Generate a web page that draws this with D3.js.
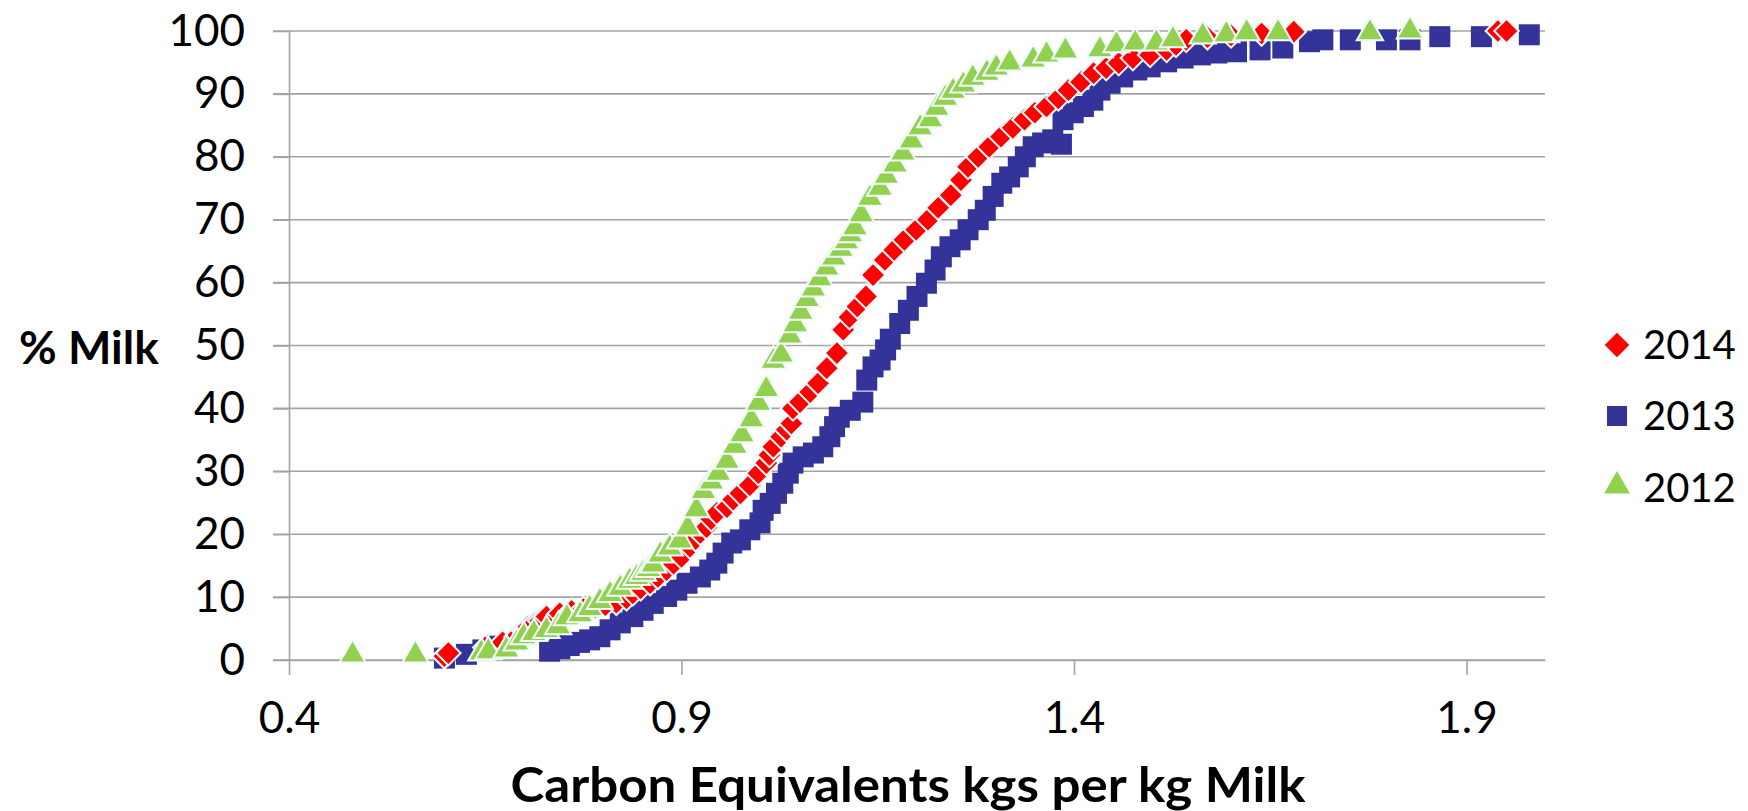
<!DOCTYPE html>
<html>
<head>
<meta charset="utf-8">
<script src="https://cdn.jsdelivr.net/npm/d3@7"></script>
<style>
  body { margin: 0; background: #fff; }
  svg { display: block; font-family: Lato, "DejaVu Sans", sans-serif; }
</style>
</head>
<body>
<script>
// [kg CO2e per kg milk, cumulative % milk]
var s2014 = [
  [0.598, 0.6], [0.603, 1.1], [0.650, 2.0], [0.672, 2.8], [0.690, 3.7], [0.700, 4.6], [0.705, 5.3],
  [0.713, 5.8], [0.720, 6.2], [0.728, 6.9], [0.745, 7.4], [0.760, 7.8], [0.775, 8.1], [0.790, 8.4],
  [0.803, 8.7], [0.817, 9.1], [0.830, 9.8], [0.838, 10.6], [0.848, 11.4], [0.860, 12.2], [0.870, 13.2],
  [0.881, 14.3], [0.890, 15.3], [0.900, 16.4], [0.911, 18.0], [0.918, 19.2], [0.924, 20.2], [0.932, 21.1],
  [0.938, 22.4], [0.945, 23.4], [0.958, 24.3], [0.966, 25.5], [0.975, 26.5], [0.987, 27.8], [0.998, 29.7],
  [1.008, 31.3], [1.012, 32.6], [1.017, 33.9], [1.027, 35.5], [1.034, 36.6], [1.040, 37.6], [1.042, 40.0],
  [1.051, 41.0], [1.064, 42.6], [1.074, 44.0], [1.085, 46.4], [1.098, 48.8], [1.106, 52.5], [1.114, 54.5],
  [1.124, 56.2], [1.135, 57.8], [1.144, 61.2], [1.159, 63.6], [1.171, 65.2], [1.184, 66.8], [1.199, 68.4],
  [1.214, 70.0], [1.227, 71.9], [1.243, 73.9], [1.256, 76.3], [1.265, 78.4], [1.278, 80.0], [1.292, 81.6],
  [1.307, 83.2], [1.322, 84.6], [1.337, 85.9], [1.350, 87.0], [1.365, 88.0], [1.380, 89.3], [1.393, 90.6],
  [1.409, 91.9], [1.425, 93.3], [1.441, 94.1], [1.457, 94.9], [1.475, 95.7], [1.497, 96.2], [1.518, 97.0],
  [1.530, 97.8], [1.543, 98.6], [1.570, 99.0], [1.600, 99.3], [1.639, 99.6], [1.680, 99.9], [1.940, 100],
  [1.951, 100]
];

var s2013 = [
  [0.598, 0.3], [0.626, 0.9], [0.647, 1.6], [0.665, 2.2], [0.732, 1.4], [0.745, 1.8], [0.757, 2.3],
  [0.770, 2.8], [0.783, 3.2], [0.796, 3.7], [0.809, 4.8], [0.822, 5.9], [0.838, 6.9], [0.851, 7.9],
  [0.864, 9.0], [0.881, 10.1], [0.894, 11.1], [0.907, 12.2], [0.924, 13.2], [0.936, 14.3], [0.945, 15.4],
  [0.953, 17.0], [0.964, 18.6], [0.975, 19.1], [0.987, 20.7], [1.000, 21.8], [1.004, 23.8], [1.013, 24.9],
  [1.021, 26.5], [1.029, 28.1], [1.036, 29.7], [1.042, 31.3], [1.055, 32.3], [1.068, 32.9], [1.080, 33.9],
  [1.089, 35.5], [1.095, 37.1], [1.101, 38.6], [1.115, 39.7], [1.131, 41.0], [1.136, 44.5], [1.144, 46.6],
  [1.153, 47.7], [1.160, 49.3], [1.166, 51.0], [1.178, 53.5], [1.189, 55.6], [1.200, 57.8], [1.212, 59.9],
  [1.223, 62.0], [1.231, 64.1], [1.242, 65.7], [1.255, 66.8], [1.265, 68.4], [1.278, 70.0], [1.287, 71.5],
  [1.297, 73.7], [1.308, 75.8], [1.318, 76.8], [1.329, 78.4], [1.338, 80.0], [1.348, 81.6], [1.360, 82.2],
  [1.373, 82.7], [1.384, 82.0], [1.386, 85.9], [1.399, 87.0], [1.412, 88.0], [1.424, 89.0], [1.433, 90.6],
  [1.446, 91.7], [1.462, 92.7], [1.480, 93.8], [1.497, 94.3], [1.518, 95.1], [1.539, 95.7], [1.561, 96.2],
  [1.582, 96.5], [1.607, 96.7], [1.637, 97.0], [1.666, 97.3], [1.700, 98.3], [1.717, 98.6], [1.752, 98.6],
  [1.798, 98.6], [1.828, 98.6], [1.866, 99.1], [1.919, 99.1], [1.980, 99.4]
];

var s2012 = [
  [0.481, 0.5], [0.561, 0.5], [0.645, 0.8], [0.654, 1.0], [0.677, 1.3], [0.690, 2.4], [0.699, 3.4],
  [0.712, 3.9], [0.728, 4.4], [0.743, 5.0], [0.754, 6.4], [0.771, 6.9], [0.783, 7.9], [0.796, 9.0],
  [0.809, 10.1], [0.822, 11.1], [0.834, 12.2], [0.843, 12.8], [0.851, 13.5], [0.858, 14.1], [0.864, 14.8],
  [0.873, 16.4], [0.885, 17.5], [0.898, 18.6], [0.908, 20.7], [0.919, 23.6], [0.928, 26.5], [0.938, 28.0],
  [0.947, 29.4], [0.958, 31.3], [0.968, 33.7], [0.977, 35.5], [0.989, 37.9], [0.998, 40.5], [1.008, 42.7],
  [1.017, 47.2], [1.027, 48.2], [1.038, 51.2], [1.045, 53.0], [1.052, 55.0], [1.060, 57.0], [1.068, 58.7],
  [1.076, 60.3], [1.085, 62.0], [1.094, 63.6], [1.103, 65.0], [1.110, 66.2], [1.115, 67.3], [1.121, 68.4],
  [1.129, 70.5], [1.140, 73.1], [1.153, 74.7], [1.161, 76.6], [1.172, 78.4], [1.182, 80.3], [1.193, 82.2],
  [1.204, 84.3], [1.217, 85.6], [1.225, 87.4], [1.236, 89.0], [1.246, 90.1], [1.259, 91.1], [1.271, 92.2],
  [1.289, 93.0], [1.301, 93.8], [1.318, 94.6], [1.348, 95.1], [1.365, 95.9], [1.389, 96.5], [1.433, 96.7],
  [1.454, 97.5], [1.478, 97.8], [1.505, 97.8], [1.526, 98.3], [1.564, 98.9], [1.594, 99.1], [1.620, 99.4],
  [1.660, 99.4], [1.777, 99.4], [1.828, 99.7]
];

var xTicks = [0.4, 0.9, 1.4, 1.9];
var yTicks = [0, 10, 20, 30, 40, 50, 60, 70, 80, 90, 100];
var legendNames = ["2014", "2013", "2012"];

var size = { width: 1748, height: 811 };
var plot = { left: 289, right: 1545, top: 31, bottom: 660 };
var gridColor = "#a3a3a3";

var series = [
  { name: "2013", data: s2013, color: "#333399", type: "square", stroke: "none" },
  { name: "2014", data: s2014, color: "#ff0000", type: "diamond", stroke: "#e9f8fb" },
  { name: "2012", data: s2012, color: "#92d050", type: "triangle", stroke: "#f2fbfc" }
];

function markerPath(type) {
  if (type == "square") return d3.symbol().type(d3.symbolSquare).size(441)();
  if (type == "diamond") return d3.symbol().type(d3.symbolSquare).size(300)();
  return d3.symbol().type(d3.symbolTriangle).size(300)();
}

var svg = d3.select("body").append("svg")
  .attr("width", size.width)
  .attr("height", size.height);

var x = d3.scaleLinear().domain([0.4, 2.0]).range([plot.left, plot.right]);
var y = d3.scaleLinear().domain([0, 100]).range([plot.bottom, plot.top]);

// horizontal gridlines, running a little left of the axis like tick marks
svg.append("g")
  .selectAll("line")
  .data(yTicks)
  .enter()
  .append("line")
  .attr("x1", plot.left - 16)
  .attr("x2", plot.right)
  .attr("y1", function(d) { return y(d); })
  .attr("y2", function(d) { return y(d); })
  .attr("stroke", gridColor)
  .attr("stroke-width", 1.6);

var yAxis = svg.append("g")
  .attr("transform", "translate(" + plot.left + ",0)")
  .call(d3.axisLeft(y).tickValues(yTicks).tickSize(16).tickSizeOuter(0).tickPadding(28));

var xAxis = svg.append("g")
  .attr("transform", "translate(0," + plot.bottom + ")")
  .call(d3.axisBottom(x).tickValues(xTicks).tickSize(15).tickSizeOuter(0).tickPadding(27)
    .tickFormat(d3.format(".1f")));

[yAxis, xAxis].forEach(function(a) {
  a.select(".domain").attr("stroke", gridColor).attr("stroke-width", 1.6);
  a.selectAll(".tick line").attr("stroke", gridColor).attr("stroke-width", 1.6);
  a.selectAll("text")
    .attr("fill", "#000")
    .style("font-size", "44px")
    .style("font-family", "Lato, sans-serif");
});

// markers
series.forEach(function(s) {
  svg.append("g")
    .selectAll("path")
    .data(s.data)
    .enter()
    .append("path")
    .attr("d", markerPath(s.type))
    .attr("transform", function(d) {
      var t = "translate(" + x(d[0]) + "," + y(d[1]) + ")";
      if (s.type == "diamond") t += " rotate(45)";
      if (s.type == "triangle") t += " translate(0,-2)";
      return t;
    })
    .attr("fill", s.color)
    .attr("stroke", s.stroke)
    .attr("stroke-width", 2);
});

// axis titles
svg.append("text")
  .attr("x", 19)
  .attr("y", 364)
  .attr("font-size", 46)
  .attr("font-weight", "bold")
  .text("% Milk");

svg.append("text")
  .attr("x", 908)
  .attr("y", 802)
  .attr("text-anchor", "middle")
  .attr("font-size", 47)
  .attr("font-weight", "bold")
  .attr("textLength", 795)
  .attr("lengthAdjust", "spacingAndGlyphs")
  .text("Carbon Equivalents kgs per kg Milk");

// legend
var legendRows = [345, 416, 488];
var legendTypes = { "2014": "diamond", "2013": "square", "2012": "triangle" };
var legendColors = { "2014": "#ff0000", "2013": "#333399", "2012": "#92d050" };

var legend = svg.append("g");
legendNames.forEach(function(name, i) {
  var t = legendTypes[name];
  var p = legend.append("path")
    .attr("fill", legendColors[name]);
  if (t == "diamond") {
    p.attr("d", d3.symbol().type(d3.symbolSquare).size(300)())
      .attr("transform", "translate(1617," + legendRows[i] + ") rotate(45)");
  } else if (t == "square") {
    p.attr("d", d3.symbol().type(d3.symbolSquare).size(400)())
      .attr("transform", "translate(1617," + legendRows[i] + ")");
  } else {
    p.attr("d", d3.symbol().type(d3.symbolTriangle).size(290)())
      .attr("transform", "translate(1617," + (legendRows[i] - 2) + ")");
  }
  legend.append("text")
    .attr("x", 1643)
    .attr("y", legendRows[i])
    .attr("dy", "0.36em")
    .attr("font-size", 40)
    .text(name);
});
</script>
</body>
</html>
